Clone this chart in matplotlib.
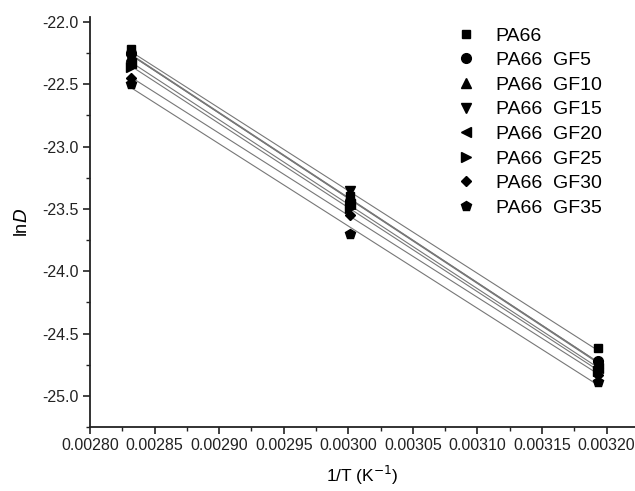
import numpy as np
import matplotlib.pyplot as plt
from matplotlib.ticker import MultipleLocator

plt.rcParams['font.family'] = ['Liberation Sans', 'DejaVu Sans']

# 1/T for 80, 60, 40 C
inv_T = [0.0028318, 0.0030017, 0.0031934]

labels = ["PA66", "PA66  GF5", "PA66  GF10", "PA66  GF15",
          "PA66  GF20", "PA66  GF25", "PA66  GF30", "PA66  GF35"]
markers = ["s", "o", "^", "v", "<", ">", "D", "p"]

lnD_pa66 = [-22.22, -23.40, -24.62]
lnD_gf5 = [-22.25, -23.44, -24.72]
lnD_gf10 = [-22.27, -23.42, -24.74]
lnD_gf15 = [-22.30, -23.36, -24.76]
lnD_gf20 = [-22.33, -23.46, -24.78]
lnD_gf25 = [-22.36, -23.49, -24.80]
lnD_gf30 = [-22.45, -23.55, -24.83]
lnD_gf35 = [-22.50, -23.70, -24.89]
series = [lnD_pa66, lnD_gf5, lnD_gf10, lnD_gf15,
          lnD_gf20, lnD_gf25, lnD_gf30, lnD_gf35]

fig = plt.figure(figsize=(6.35, 4.91), dpi=100)
ax = fig.add_axes([90/635, 64/491, 545/635, 410/491])

x = np.array(inv_T)
for y, m, lab in zip(series, markers, labels):
    # linear fit line
    k, b = np.polyfit(x, y, 1)
    xx = np.array([x[0], x[-1]])
    ax.plot(xx, k*xx + b, color='#777777', lw=0.8, zorder=1)
    ms = 5.5 if m in ("s", "D") else 7
    ax.plot(x, y, linestyle='none', marker=m, color='black', ms=ms,
            label=lab, zorder=3)

ax.set_xlim(0.0028, 0.003222)
ax.set_ylim(-25.25, -21.96)
ax.xaxis.set_major_locator(MultipleLocator(0.00005))
ax.xaxis.set_minor_locator(MultipleLocator(0.000025))
ax.yaxis.set_major_locator(MultipleLocator(0.5))
ax.yaxis.set_minor_locator(MultipleLocator(0.25))
ax.xaxis.set_major_formatter(plt.FuncFormatter(lambda v, p: "%.5f" % v))
ax.yaxis.set_major_formatter(plt.FuncFormatter(lambda v, p: "%.1f" % v))

for s in ['top', 'right']:
    ax.spines[s].set_visible(False)
for s in ['left', 'bottom']:
    ax.spines[s].set_linewidth(1.3)
    ax.spines[s].set_color('#222222')
ax.tick_params(which='major', direction='out', length=5, width=1.2,
               labelsize=11.5, colors='#222222', pad=3)
ax.tick_params(which='minor', direction='out', length=3, width=1.0,
               colors='#222222')

ax.set_xlabel("1/T (K$^{-1}$)", fontsize=12.5, labelpad=8)
ax.set_ylabel("ln$\\it{D}$", fontsize=13, labelpad=8)

ax.legend(loc='upper left', bbox_to_anchor=(456/635, 1 - 27/491),
          bbox_transform=fig.transFigure, frameon=False, fontsize=14,
          handlelength=1.0, handletextpad=1.05, labelspacing=0.36,
          borderpad=0, borderaxespad=0)

fig.savefig("out.png", dpi=100)
